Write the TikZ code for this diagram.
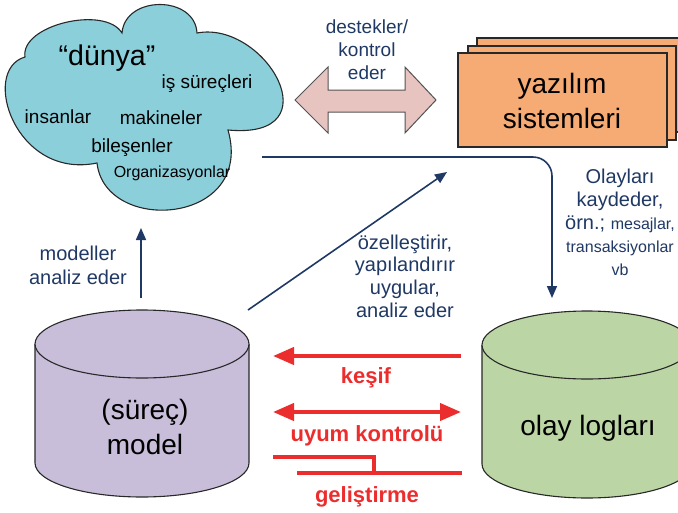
\documentclass[tikz,border=0pt]{standalone}
\usepackage{fontspec}
\setmainfont{Liberation Sans}
\usetikzlibrary{arrows.meta}

\definecolor{navy}{RGB}{31,56,100}
\definecolor{cloudfill}{RGB}{139,207,219}
\definecolor{swfill}{RGB}{246,171,116}
\definecolor{pinkfill}{RGB}{232,196,192}
\definecolor{lavfill}{RGB}{200,190,218}
\definecolor{greenfill}{RGB}{187,214,164}
\definecolor{redc}{RGB}{236,45,45}
\definecolor{edge}{RGB}{40,40,40}

\begin{document}
\begin{tikzpicture}[x=1pt,y=1pt,
  outline/.style={draw=edge, line width=1.1pt},
  navyarrow/.style={draw=navy, line width=1.6pt, -{Triangle[length=12pt,width=10pt]}},
  navylabel/.style={text=navy, align=center, inner sep=0pt},
  redline/.style={draw=redc, line width=4pt},
  redlabel/.style={text=redc, font=\fontsize{22}{26}\selectfont\bfseries, inner sep=0pt, anchor=base},
  cloudtext/.style={inner sep=0pt, anchor=base, font=\fontsize{19}{23}\selectfont},
  bigtext/.style={inner sep=0pt, align=center, font=\fontsize{28}{35}\selectfont}
]
\clip (0,0) rectangle (678,-512);

% --- the "world" cloud ---
\draw[outline, fill=cloudfill]
  (25,-57) .. controls (20,-25) and (105,-5) .. (122,-33)
  .. controls (125,5) and (195,5) .. (197,-33)
  .. controls (265,-20) and (335,-140) .. (228,-130)
  .. controls (255,-225) and (105,-235) .. (97,-163)
  .. controls (15,-180) and (-20,-70) .. (25,-57) -- cycle;
\node[cloudtext, font=\fontsize{28.5}{33}\selectfont] (world) at (107,-65) {“dünya”};
\node[cloudtext] (isp) at (207,-88) {iş süreçleri};
\node[cloudtext] (ppl) at (58,-123) {insanlar};
\node[cloudtext] (mach) at (161,-124) {makineler};
\node[cloudtext] (comp) at (132,-152) {bileşenler};
\node[cloudtext, font=\fontsize{16}{20}\selectfont] (org) at (172,-177) {Organizasyonlar};

% --- software systems (stacked sheets) ---
\draw[outline, fill=swfill] (477,-38) rectangle (686,-132);
\draw[outline, fill=swfill] (468,-46) rectangle (676,-140);
\draw[outline, fill=swfill] (458,-53) rectangle (667,-147);
\node[bigtext] (sw) at (562,-101) {yazılım\\sistemleri};

% --- supports / controls double arrow ---
\draw[draw=edge!80, line width=1pt, fill=pinkfill]
  (295,-100) -- (328,-67) -- (328,-90) -- (405,-90) -- (405,-67) -- (436,-100)
  -- (405,-133) -- (405,-112) -- (328,-112) -- (328,-133) -- cycle;
\node[navylabel, font=\fontsize{19}{23}\selectfont] (supp) at (367,-50) {destekler/\\kontrol\\eder};

% --- process model cylinder ---
\fill[lavfill] (35,-344) -- (35,-463) arc[start angle=180,end angle=360,x radius=107,y radius=34] -- (249,-344) -- cycle;
\draw[outline] (35,-344) -- (35,-463) arc[start angle=180,end angle=360,x radius=107,y radius=34] -- (249,-344);
\draw[outline, fill=lavfill] (142,-344) ellipse[x radius=107,y radius=34];
\node[bigtext] (model) at (145,-427) {(süreç)\\model};

% --- event logs cylinder ---
\fill[greenfill] (482,-345) -- (482,-464) arc[start angle=180,end angle=360,x radius=105,y radius=34] -- (692,-345) -- cycle;
\draw[outline] (482,-345) -- (482,-464) arc[start angle=180,end angle=360,x radius=105,y radius=34] -- (692,-345);
\draw[outline, fill=greenfill] (587,-345) ellipse[x radius=105,y radius=34];
\node[inner sep=0pt, anchor=base, font=\fontsize{28}{35}\selectfont] (logs) at (588,-435) {olay logları};

% --- navy connectors ---
\coordinate (modeltop) at (141,-298);
\coordinate (cloudbottom) at (141,-228);
\draw[navyarrow] (modeltop) -- (cloudbottom);
\node[navylabel, font=\fontsize{20}{24}\selectfont] (analyse) at (78,-265) {modeller\\analiz eder};

\coordinate (modelcorner) at (248,-310);
\coordinate (diagtip) at (447,-172);
\draw[navyarrow] (modelcorner) -- (diagtip);
\node[navylabel, font=\fontsize{20}{22.7}\selectfont] (config) at (405,-276) {özelleştirir,\\yapılandırır\\uygular,\\analiz eder};

\coordinate (cloudright) at (262,-157);
\coordinate (logstop) at (552,-298);
\draw[navyarrow, rounded corners=19pt] (cloudright) -- (552,-157) -- (logstop);
\node[navylabel, font=\fontsize{20}{23}\selectfont] (records) at (620,-222)
  {Olayları\\kaydeder,\\örn.; {\fontsize{16}{20}\selectfont mesajlar,}\\{\fontsize{16}{20}\selectfont transaksiyonlar}\\{\fontsize{16}{20}\selectfont vb}};

% --- red relations between model and logs ---
\coordinate (discR) at (461,-356);
\coordinate (discL) at (273,-356);
\draw[redline, -{Triangle[length=21pt,width=17pt]}] (discR) -- (discL);
\node[redlabel] (disc) at (366,-383) {keşif};

\coordinate (confL) at (273,-412);
\coordinate (confR) at (461,-412);
\draw[redline, {Triangle[length=21pt,width=17pt]}-{Triangle[length=21pt,width=17pt]}] (confL) -- (confR);
\node[redlabel] (conf) at (367,-441) {uyum kontrolü};

\coordinate (enhA) at (273,-457);
\coordinate (enhB) at (374,-457);
\coordinate (enhC) at (374,-473);
\coordinate (enhD) at (297,-473);
\coordinate (enhE) at (462,-473);
\draw[redline] (enhA) -- (enhB) -- (enhC);
\draw[redline] (enhD) -- (enhE);
\node[redlabel] (enh) at (367,-502) {geliştirme};
\end{tikzpicture}
\end{document}
